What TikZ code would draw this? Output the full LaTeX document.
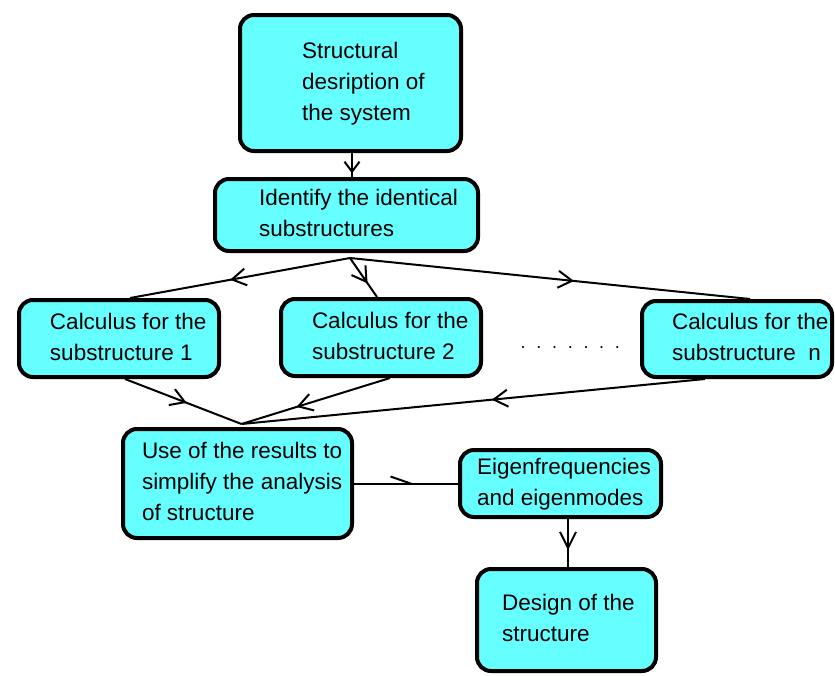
\documentclass[tikz,border=0pt]{standalone}
\usepackage{fontspec}
\setmainfont{Liberation Sans}
\usetikzlibrary{arrows.meta,decorations.markings,calc}
\definecolor{boxcyan}{HTML}{66FFFF}
\pgfdeclarelayer{bg}
\pgfsetlayers{bg,main}
\newcommand\bxt[3]{\makebox[#1][l]{\hspace*{#2}\begin{tabular}{@{}l@{}}#3\end{tabular}}}
\begin{document}
\begin{tikzpicture}[x=1pt,y=-1pt,
  box/.style={draw=black, line width=4pt, fill=boxcyan, rounded corners=14pt,
    inner sep=0pt, font=\fontsize{22.5}{31}\selectfont},
  conn/.style={draw=black, line width=2pt},
  marr/.style args={#1:#2:#3}{postaction={decorate},
    decoration={markings, mark=at position #1 with
      {\arrow{Straight Barb[length=#2pt,width=#3pt]}}}},
  halfarr/.style={postaction={decorate},
    decoration={markings, mark=at position #1 with
      {\arrow{Straight Barb[left,length=20pt,width=14pt]}}}},
  dotsstyle/.style={font=\fontsize{18}{20}\selectfont, inner sep=0pt, anchor=base west}]
\useasboundingbox (0,0) rectangle (835,675);

\node[box, minimum width=221pt, minimum height=136pt] (A) at (350.5,83)
  {\bxt{221pt}{62pt}{Structural\\desription of\\the system}};
\node[box, minimum width=263pt, minimum height=72pt] (B) at (346.5,215)
  {\bxt{263pt}{44pt}{Identify the identical\\substructures}};
\node[box, minimum width=200pt, minimum height=77pt] (C1) at (119,338.5)
  {\bxt{200pt}{31pt}{Calculus for the\\substructure 1}};
\node[box, minimum width=200pt, minimum height=77pt] (C2) at (381,337.5)
  {\bxt{200pt}{31pt}{Calculus for the\\substructure 2}};
\node[box, minimum width=190pt, minimum height=76pt] (Cn) at (737,339)
  {\bxt{190pt}{30pt}{Calculus for the\\substructure\ \ n}};
\node[box, minimum width=229pt, minimum height=109pt] (D) at (237.5,483.5)
  {\bxt{229pt}{19pt}{Use of the results to\\simplify the analysis\\of structure}};
\node[box, minimum width=201pt, minimum height=67pt] (E) at (560.5,483.5)
  {\bxt{201pt}{17pt}{Eigenfrequencies\\and eigenmodes}};
\node[box, minimum width=179pt, minimum height=102pt] (F) at (566.5,620)
  {\bxt{179pt}{25pt}{Design of the\\structure}};
\node[dotsstyle] (dots) at (520.5,348.5)
  {.\hspace{10.7pt}.\hspace{10.7pt}.\hspace{10.7pt}.\hspace{10.7pt}.\hspace{10.7pt}.\hspace{10.7pt}.};

\begin{pgfonlayer}{bg}
\coordinate (Bo) at ($(B.south)+(3.5,5)$);
\coordinate (Di) at ($(D.north)+(4,-3)$);
\draw[conn, marr=0.85:10:15] ($(A.south)+(1.5,0)$) -- ($(B.north)+(5.5,0)$);
\draw[conn, marr=0.545:14:17] (Bo) -- ($(C1.north)+(11,0)$);
\draw[conn, marr=0.65:14:17] (Bo) -- ($(C2.north)+(-4,0)$);
\draw[conn, marr=0.56:14:17] (Bo) -- ($(Cn.north)+(13,0)$);
\draw[conn, marr=0.53:14:17] ($(C1.south)+(6,0)$) -- (Di);
\draw[conn, marr=0.63:14:17] ($(C2.south)+(9,0)$) -- (Di);
\draw[conn, marr=0.46:14:17] ($(Cn.south)+(-32,0)$) -- (Di);
\draw[conn, halfarr=0.6] (D.east) -- (E.west);
\draw[conn, marr=0.65:16:16] ([xshift=1.5pt]F.north |- E.south) -- ([xshift=1.5pt]F.north);
\end{pgfonlayer}
\end{tikzpicture}
\end{document}
